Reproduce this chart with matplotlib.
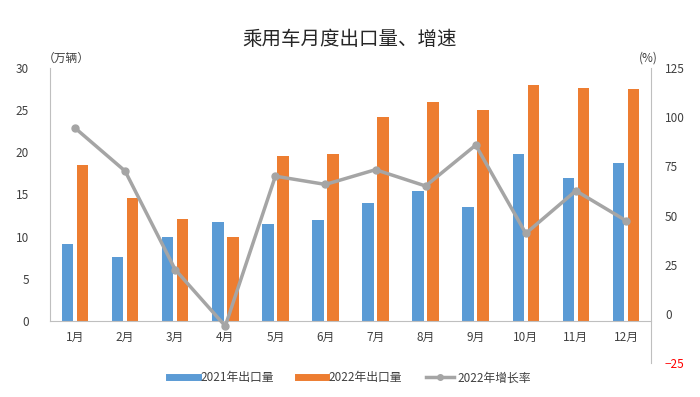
import numpy as np
import matplotlib.pyplot as plt
from matplotlib.lines import Line2D

plt.rcParams['font.family'] = ['Noto Sans CJK SC', 'DejaVu Sans']

months = ["1月", "2月", "3月", "4月", "5月", "6月", "7月", "8月", "9月", "10月", "11月", "12月"]
export_2021 = [9.1, 7.6, 9.9, 11.7, 11.5, 12.0, 14.0, 15.4, 13.5, 19.8, 17.0, 18.7]
export_2022 = [18.5, 14.6, 12.1, 9.9, 19.6, 19.8, 24.2, 26.0, 25.0, 28.0, 27.6, 27.5]
growth_2022 = [94.5, 72.6, 22.5, -6.2, 70.0, 65.8, 73.3, 65.0, 85.8, 40.9, 62.6, 47.4]
left_ticks = [0, 5, 10, 15, 20, 25, 30]
right_ticks = [-25, 0, 25, 50, 75, 100, 125]
right_labels = ["−25", "0", "25", "50", "75", "100", "125"]


def main():
    blue = "#5B9BD5"
    orange = "#ED7D31"
    gray = "#A5A5A5"
    axis_color = "#BFBFBF"
    text_color = "#404040"

    fig = plt.figure(figsize=(7, 3.97), dpi=100)
    ax = fig.add_axes([0.0714, 0.0856, 0.8586, 0.7431])
    ax2 = ax.twinx()

    x = np.arange(len(months))
    w = 0.23
    ax.bar(x - 0.15, export_2021, w, color=blue, zorder=2)
    ax.bar(x + 0.15, export_2022, w, color=orange, zorder=2)

    ax.set_xlim(-0.5, len(months) - 0.5)
    ax.set_ylim(-5, 30)
    ax.set_yticks(left_ticks)
    ax.set_xticks(x)
    ax.set_xticklabels(months)

    ax.spines['top'].set_visible(False)
    ax.spines['right'].set_visible(False)
    ax.spines['bottom'].set_position(('data', 0))
    ax.spines['bottom'].set_color(axis_color)
    ax.spines['left'].set_color(axis_color)
    ax.spines['left'].set_bounds(0, 30)
    ax.tick_params(axis='both', length=0, labelsize=8.5, labelcolor=text_color)
    ax.tick_params(axis='x', pad=7)
    ax.tick_params(axis='y', pad=15)

    ax2.plot(x, growth_2022, color=gray, linewidth=2.5, marker='o', markersize=5, zorder=3)
    ax2.set_ylim(-25, 125)
    ax2.set_yticks(right_ticks)
    ax2.set_yticklabels(right_labels)
    for s in ['top', 'left', 'bottom']:
        ax2.spines[s].set_visible(False)
    ax2.spines['right'].set_color(axis_color)
    ax2.tick_params(axis='y', length=0, labelsize=8.5, labelcolor=text_color, pad=10)
    ax2.get_yticklabels()[0].set_color("#FF0000")

    fig.text(0.5, 0.9, "乘用车月度出口量、增速", ha='center', va='center', fontsize=14, color="#262626")
    fig.text(0.095, 0.853, "（万辆）", ha='center', va='center', fontsize=8.5, color=text_color)
    fig.text(0.926, 0.853, "(%)", ha='center', va='center', fontsize=8.5, color=text_color)

    handles = [
        Line2D([0], [0], color=blue, linewidth=5),
        Line2D([0], [0], color=orange, linewidth=5),
        Line2D([0], [0], color=gray, linewidth=2.5, marker='o', markersize=4),
    ]
    labels = ["2021年出口量", "2022年出口量", "2022年增长率"]
    fig.legend(handles, labels, loc='center', bbox_to_anchor=(0.5, 0.048), ncol=3,
               frameon=False, fontsize=8.5, handlelength=2.4, handletextpad=0.25,
               columnspacing=2.0, labelcolor=text_color)

    fig.savefig("out.png", dpi=100)


if __name__ == '__main__':
    main()
